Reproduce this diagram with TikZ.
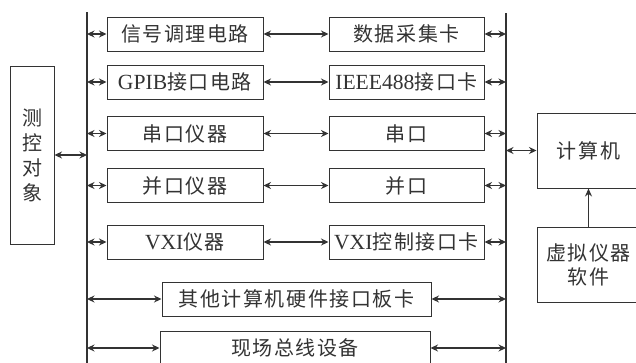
\documentclass[tikz,border=0pt]{standalone}
\usepackage{fontspec}
\setmainfont{Noto Sans CJK SC}[LetterSpace=8]
\newfontfamily\lat{Liberation Serif}[Scale=1.08]
\usetikzlibrary{arrows.meta}
\definecolor{ink}{HTML}{333333}
\begin{document}
\begin{tikzpicture}[x=1pt,y=-1pt,
  box/.style={draw=ink,line width=1pt,minimum width=156pt,minimum height=34pt,inner sep=0pt,
    font=\fontsize{20}{24}\selectfont,text=ink},
  bus/.style={draw=ink,line width=2pt},
  dbl/.style={draw=ink,line width=1.1pt,{Stealth[length=7.5pt,width=7pt]}-{Stealth[length=7.5pt,width=7pt]}},
  one/.style={draw=ink,line width=1.1pt,-{Stealth[length=8pt,width=7pt]}}]
\useasboundingbox (0,0) rectangle (636,362);
\fill[white] (0,0) rectangle (636,362);
\clip (0,0) rectangle (636,362);
% buses
\coordinate (lt) at (87,12);
\coordinate (lb) at (87,366);
\coordinate (rt) at (506,13);
\coordinate (rb) at (506,366);
\draw[bus] (lt) -- (lb);
\draw[bus] (rt) -- (rb);
% left boxes
\node[box] (a1) at (185,34) {信号调理电路};
\node[box] (a2) at (185,82) {{\lat GPIB}接口电路};
\node[box] (a3) at (185,133.5) {串口仪器};
\node[box] (a4) at (185,185.5) {并口仪器};
\node[box] (a5) at (185,242) {{\lat VXI}仪器};
% right boxes
\node[box,minimum width=155pt] (b1) at (406.5,34) {数据采集卡};
\node[box,minimum width=155pt] (b2) at (406.5,82) {{\lat IEEE488}接口卡};
\node[box,minimum width=155pt] (b3) at (406.5,133.5) {串口};
\node[box,minimum width=155pt] (b4) at (406.5,185.5) {并口};
\node[box,minimum width=155pt] (b5) at (406.5,242) {{\lat VXI}控制接口卡};
% wide boxes
\node[box,minimum width=269pt] (c6) at (296.5,299) {其他计算机硬件接口板卡};
\node[box,minimum width=270pt] (c7) at (295,348) {现场总线设备};
% object
\node[box,minimum width=44pt,minimum height=178pt,align=center,
  font=\fontsize{20}{25}\selectfont] (obj) at (32,155) {测\\控\\对\\象};
% computer
\node[box,minimum width=103pt,minimum height=75pt] (pc) at (588.5,150.5) {计算机};
\node[box,minimum width=103pt,minimum height=75pt,align=center,
  font=\fontsize{20}{24}\selectfont] (vi) at (588.5,264.5) {虚拟仪器\\软件};
% connectors
\foreach \i in {1,...,5}{
  \draw[dbl] (lt |- a\i.west) -- (a\i.west);
  \draw[dbl] (a\i.east) -- (b\i.west);
  \draw[dbl] (b\i.east) -- (rt |- b\i.east);
}
\draw[dbl] (lt |- c6.west) -- (c6.west);
\draw[dbl] (c6.east) -- (rt |- c6.east);
\draw[dbl] (lt |- c7.west) -- (c7.west);
\draw[dbl] (c7.east) -- (rt |- c7.east);
\draw[dbl] (obj.east) -- (lt |- obj.east);
\draw[dbl] (rt |- pc.west) -- (pc.west);
\draw[one] (vi.north) -- (pc.south);
\end{tikzpicture}
\end{document}
